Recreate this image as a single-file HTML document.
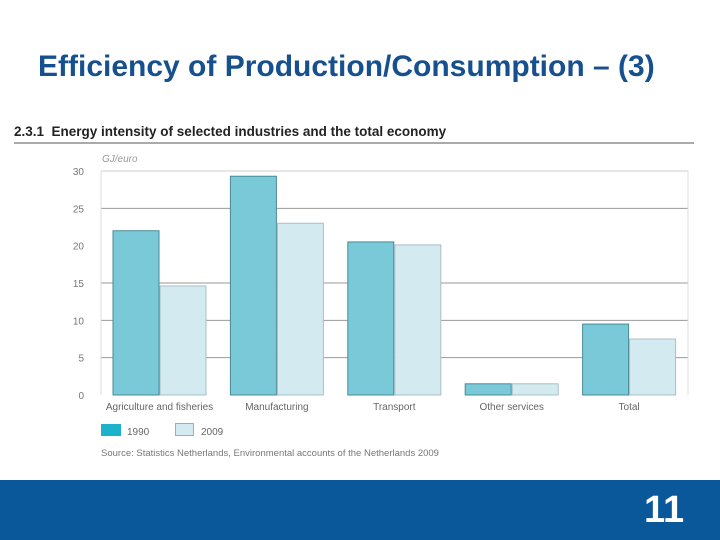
<!DOCTYPE html>
<html><head><meta charset="utf-8"><style>
body{margin:0;width:720px;height:540px;overflow:hidden;background:#fff;font-family:"Liberation Sans",sans-serif;position:relative}
.t{position:absolute;white-space:nowrap}
</style></head><body>
<div class="t" style="left:38px;top:50px;font-size:30px;line-height:34px;font-weight:bold;color:#17508f">Efficiency of Production/Consumption – (3)</div>
<svg width="720" height="540" style="position:absolute;left:0;top:0">
<text x="14" y="136" font-size="13.5" font-weight="bold" fill="#222">2.3.1&#160;&#160;Energy intensity of selected industries and the total economy</text>
<line x1="14" x2="694" y1="143" y2="143" stroke="#555" stroke-width="1"/>
<text x="102" y="162" font-size="10" font-style="italic" fill="#999">GJ/euro</text>
<g id="grid"></g><g id="bars"></g><g id="labels"></g>
<rect x="101" y="424" width="20" height="12" fill="#1ab3c9"/>
<text x="127" y="435" font-size="10" fill="#666">1990</text>
<rect x="175.5" y="423.5" width="18" height="12" fill="#d3ebf0" stroke="#aaa"/>
<text x="201" y="435" font-size="10" fill="#666">2009</text>
<text x="101" y="456" font-size="9.5" fill="#777">Source: Statistics Netherlands, Environmental accounts of the Netherlands 2009</text>
</svg>
<div style="position:absolute;left:0;top:480px;width:720px;height:60px;background:#0a5799"></div>
<div class="t" style="left:644px;top:489px;font-size:38px;font-weight:bold;color:#fff">11</div>
<script>
const categories=["Agriculture and fisheries","Manufacturing","Transport","Other services","Total"];
const values1990=[22,29.3,20.5,1.5,9.5];
const values2009=[14.6,23,20.1,1.5,7.5];
const yTicks=[0,5,10,15,20,25,30];
const NS="http://www.w3.org/2000/svg";
const x0=101,x1=688,yb=395,yt=171,ymax=30;
const y=v=>yb-(v/ymax)*(yb-yt);
const gw=(x1-x0)/categories.length;
function mk(t,a,p){const e=document.createElementNS(NS,t);for(const k in a)e.setAttribute(k,a[k]);document.getElementById(p).appendChild(e);return e;}
yTicks.forEach(v=>{
  if(v!==20&&v!==0){const l=mk('line',{x1:x0,x2:x1,y1:y(v),y2:y(v),stroke:v===ymax?'#ccc':'#999','stroke-width':1},'grid');
  
  }
  const t=mk('text',{x:84,y:y(v)+4,'font-size':10,fill:'#777','text-anchor':'end'},'labels');
  t.textContent=v;
  
  
});
mk('line',{x1:x0,x2:x0,y1:yt,y2:yb,stroke:'#ddd'},'grid');
mk('line',{x1:x1,x2:x1,y1:yt,y2:yb,stroke:'#ddd'},'grid');
categories.forEach((c,i)=>{
  const gx=x0+i*gw+12;
  const a=mk('rect',{x:gx,y:y(values1990[i]),width:46,height:yb-y(values1990[i]),fill:'#79c9d9',stroke:'#4a8a98','stroke-width':1},'bars');
  
  
  const b=mk('rect',{x:gx+47,y:y(values2009[i]),width:46,height:yb-y(values2009[i]),fill:'#d3ebf0',stroke:'#a9bfc4','stroke-width':1},'bars');
  
  
  const t=mk('text',{x:gx+46.5,y:410,'font-size':10,fill:'#666','text-anchor':'middle'},'labels');
  t.textContent=c;
  
  
});
</script>
</body></html>
